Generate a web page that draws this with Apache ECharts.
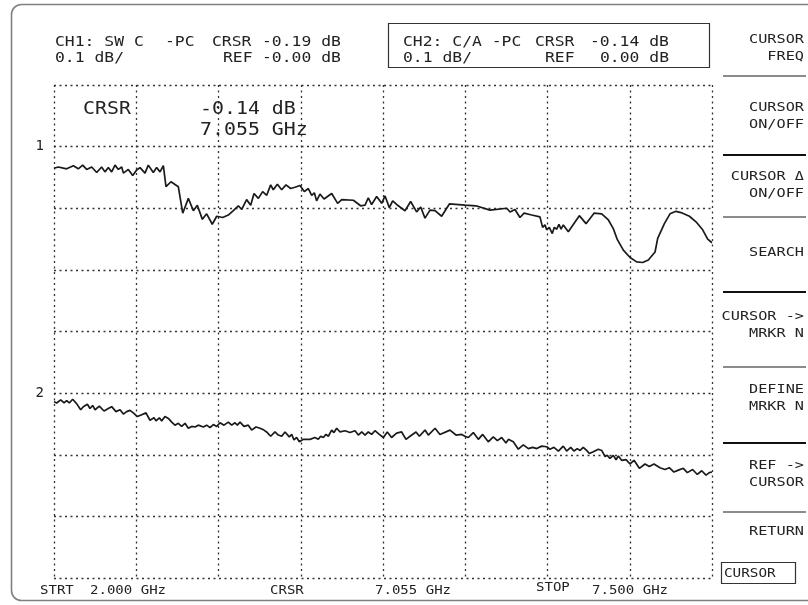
<!DOCTYPE html>
<html><head><meta charset="utf-8">
<script src="https://cdn.jsdelivr.net/npm/echarts@6/dist/echarts.min.js"></script>
<style>html,body{margin:0;padding:0;background:#fff}#c{width:808px;height:605px}</style>
</head><body><div id="c"></div>
<script>
// ---- data (frequency in GHz, level in dB) ----
const ch1Freq = [2.000,2.036,2.078,2.106,2.162,2.203,2.240,2.273,2.315,2.357,2.398,2.426,2.454,2.482,2.510,2.538,2.566,2.580,2.621,2.658,2.691,2.719,2.761,2.788,2.830,2.858,2.886,2.914,2.936,2.978,3.039,3.076,3.123,3.165,3.198,3.240,3.276,3.323,3.360,3.410,3.457,3.499,3.541,3.569,3.610,3.644,3.672,3.708,3.744,3.778,3.811,3.833,3.867,3.903,3.939,3.978,4.014,4.056,4.092,4.126,4.154,4.176,4.195,4.223,4.257,4.321,4.371,4.405,4.502,4.563,4.600,4.627,4.655,4.697,4.739,4.767,4.803,4.831,4.878,4.934,4.981,5.031,5.065,5.101,5.143,5.185,5.240,5.305,5.436,5.527,5.644,5.784,5.812,5.853,5.895,5.929,5.993,6.062,6.084,6.104,6.118,6.140,6.165,6.182,6.202,6.221,6.238,6.257,6.299,6.391,6.447,6.514,6.578,6.634,6.675,6.709,6.759,6.815,6.870,6.920,6.968,7.024,7.046,7.102,7.149,7.199,7.241,7.311,7.366,7.422,7.464,7.500];
const ch1Db = [-0.035,-0.033,-0.035,-0.036,-0.031,-0.036,-0.030,-0.037,-0.033,-0.042,-0.033,-0.041,-0.034,-0.041,-0.030,-0.037,-0.033,-0.043,-0.037,-0.047,-0.038,-0.034,-0.043,-0.030,-0.042,-0.034,-0.041,-0.031,-0.065,-0.057,-0.065,-0.108,-0.084,-0.104,-0.095,-0.118,-0.109,-0.126,-0.113,-0.115,-0.111,-0.104,-0.096,-0.102,-0.086,-0.095,-0.076,-0.084,-0.073,-0.079,-0.062,-0.070,-0.061,-0.070,-0.062,-0.068,-0.066,-0.063,-0.073,-0.068,-0.079,-0.075,-0.088,-0.077,-0.085,-0.076,-0.092,-0.086,-0.087,-0.096,-0.095,-0.083,-0.094,-0.081,-0.092,-0.080,-0.099,-0.088,-0.096,-0.104,-0.089,-0.106,-0.098,-0.116,-0.103,-0.104,-0.113,-0.093,-0.095,-0.096,-0.103,-0.100,-0.106,-0.102,-0.115,-0.108,-0.111,-0.114,-0.131,-0.127,-0.135,-0.131,-0.141,-0.131,-0.134,-0.126,-0.134,-0.127,-0.138,-0.112,-0.125,-0.108,-0.109,-0.119,-0.133,-0.151,-0.168,-0.180,-0.187,-0.188,-0.184,-0.171,-0.149,-0.125,-0.109,-0.105,-0.107,-0.113,-0.122,-0.135,-0.150,-0.156];
const ch2Freq = [2.000,2.022,2.056,2.084,2.106,2.128,2.156,2.189,2.223,2.245,2.279,2.301,2.323,2.343,2.379,2.418,2.454,2.482,2.518,2.552,2.580,2.607,2.635,2.663,2.697,2.733,2.769,2.802,2.836,2.853,2.880,2.900,2.928,2.956,2.984,3.011,3.039,3.067,3.095,3.123,3.151,3.179,3.206,3.248,3.276,3.304,3.332,3.360,3.388,3.421,3.457,3.485,3.513,3.532,3.555,3.588,3.624,3.652,3.688,3.722,3.755,3.777,3.811,3.847,3.875,3.903,3.931,3.967,3.987,4.006,4.028,4.051,4.084,4.140,4.181,4.209,4.229,4.251,4.273,4.293,4.321,4.340,4.363,4.391,4.432,4.474,4.516,4.544,4.572,4.600,4.627,4.655,4.683,4.719,4.753,4.786,4.822,4.864,4.906,4.942,4.976,5.026,5.054,5.101,5.129,5.185,5.226,5.310,5.360,5.408,5.435,5.463,5.505,5.547,5.583,5.630,5.672,5.706,5.742,5.778,5.798,5.839,5.881,5.923,5.965,6.001,6.035,6.076,6.118,6.146,6.179,6.216,6.257,6.285,6.319,6.346,6.374,6.397,6.424,6.452,6.475,6.508,6.550,6.578,6.606,6.625,6.647,6.675,6.698,6.717,6.745,6.781,6.815,6.848,6.893,6.940,6.976,7.015,7.065,7.107,7.143,7.182,7.219,7.260,7.294,7.338,7.377,7.414,7.450,7.478,7.500];
const ch2Db = [-0.014,-0.016,-0.011,-0.016,-0.012,-0.016,-0.010,-0.017,-0.027,-0.022,-0.018,-0.025,-0.020,-0.027,-0.021,-0.029,-0.025,-0.022,-0.030,-0.027,-0.034,-0.030,-0.028,-0.032,-0.038,-0.035,-0.032,-0.044,-0.040,-0.045,-0.040,-0.045,-0.038,-0.041,-0.047,-0.052,-0.049,-0.054,-0.049,-0.057,-0.054,-0.055,-0.052,-0.055,-0.052,-0.056,-0.051,-0.054,-0.048,-0.052,-0.047,-0.052,-0.048,-0.052,-0.047,-0.054,-0.052,-0.060,-0.055,-0.057,-0.060,-0.063,-0.070,-0.063,-0.068,-0.070,-0.063,-0.071,-0.067,-0.076,-0.072,-0.079,-0.075,-0.075,-0.072,-0.075,-0.070,-0.072,-0.067,-0.070,-0.060,-0.064,-0.057,-0.063,-0.061,-0.064,-0.061,-0.068,-0.063,-0.068,-0.063,-0.067,-0.061,-0.067,-0.072,-0.063,-0.072,-0.065,-0.063,-0.075,-0.070,-0.063,-0.070,-0.060,-0.068,-0.057,-0.067,-0.060,-0.068,-0.067,-0.070,-0.072,-0.064,-0.075,-0.067,-0.079,-0.071,-0.077,-0.072,-0.081,-0.075,-0.079,-0.091,-0.084,-0.090,-0.088,-0.090,-0.086,-0.087,-0.091,-0.088,-0.094,-0.086,-0.094,-0.088,-0.094,-0.090,-0.093,-0.088,-0.093,-0.098,-0.095,-0.091,-0.093,-0.103,-0.101,-0.106,-0.101,-0.108,-0.102,-0.109,-0.108,-0.115,-0.109,-0.122,-0.115,-0.119,-0.115,-0.121,-0.124,-0.121,-0.128,-0.125,-0.122,-0.129,-0.124,-0.132,-0.126,-0.133,-0.129,-0.128];

// ---- texts ----
const ch1Line1 = ['CH1: SW C', '-PC', 'CRSR', '-0.19 dB'];
const ch1Line2 = ['0.1 dB/', 'REF', '-0.00 dB'];
const ch2Line1 = ['CH2: C/A -PC', 'CRSR', '-0.14 dB'];
const ch2Line2 = ['0.1 dB/', 'REF', '0.00 dB'];
const cursorReadout = ['CRSR', '-0.14 dB', '7.055 GHz'];
const bottomLabels = ['STRT', '2.000 GHz', 'CRSR', '7.055 GHz', 'STOP', '7.500 GHz'];
const menuItems = [['CURSOR','FREQ'],['CURSOR','ON/OFF'],['CURSOR \u0394','ON/OFF'],['SEARCH'],['CURSOR ->','MRKR N'],['DEFINE','MRKR N'],['REF ->','CURSOR'],['RETURN']];
const modeLabel = 'CURSOR';
const refMarks = ['1', '2'];

// ---- layout / style ----
const MONO = '"DejaVu Sans Mono", monospace';
const INK = '#222';
const SX = 1.17;
const ch1Line1X = [55, 165, 212, 262];
const ch1Line2X = [55, 223, 262];
const ch2Line1X = [403, 535, 590];
const ch2Line2X = [403, 545, 600];
const bottomX = [40, 90, 270, 375, 536, 592];
const bottomY = [591, 591, 591, 591, 588, 591];
const menuY = [40, 108, 177, 253, 317, 390, 466, 532];
const sepY = [76, 155, 217, 292, 367, 443, 512];
const sepThick = [false, true, false, true, false, true, false];

function txt(text, x, y, size, opt) {
  opt = opt || {};
  return {
    type: 'text', x: x, y: y, scaleX: opt.sx || SX, silent: true, z: 10,
    style: {
      text: text, fill: opt.fill || INK, font: size + 'px ' + MONO,
      align: opt.align || 'left', verticalAlign: 'middle',
      textAlign: opt.align || 'left', textVerticalAlign: 'middle'
    }
  };
}

const graphics = [];
graphics.push({type:'rect', silent:true, shape:{x:11.5, y:4.5, width:830, height:596, r:10},
  style:{fill:'none', stroke:'#808080', lineWidth:1.6}});
graphics.push({type:'rect', silent:true, shape:{x:388.5, y:23.5, width:321, height:44},
  style:{fill:'none', stroke:'#333', lineWidth:1.2}});
ch1Line1.forEach((t, i) => graphics.push(txt(t, ch1Line1X[i], 42, 14)));
ch1Line2.forEach((t, i) => graphics.push(txt(t, ch1Line2X[i], 58, 14)));
ch2Line1.forEach((t, i) => graphics.push(txt(t, ch2Line1X[i], 42, 14)));
ch2Line2.forEach((t, i) => graphics.push(txt(t, ch2Line2X[i], 58, 14)));
graphics.push(txt(cursorReadout[0], 83, 109.5, 17));
graphics.push(txt(cursorReadout[1], 200, 109.5, 17));
graphics.push(txt(cursorReadout[2], 200, 131, 17));
bottomLabels.forEach((t, i) => graphics.push(txt(t, bottomX[i], bottomY[i], 13, {sx:1.08})));
menuItems.forEach((lines, i) => lines.forEach((t, j) =>
  graphics.push(txt(t, 804, menuY[i] + j * 16.5, 13, {align:'right'}))));
sepY.forEach((y, i) => graphics.push({type:'line', silent:true,
  shape:{x1:723, y1:y, x2:806, y2:y},
  style:{stroke: sepThick[i] ? '#111' : '#666', lineWidth: sepThick[i] ? 2.2 : 1.4}}));
graphics.push({type:'rect', silent:true, shape:{x:721.5, y:562.5, width:74, height:21},
  style:{fill:'none', stroke:'#333', lineWidth:1.2}});
graphics.push(txt(modeLabel, 724, 573.5, 13, {sx:1.1}));

const dotted = {type:[2, 3.5], color:'#333', width:1.3};
const chart = echarts.init(document.getElementById('c'), null, {renderer:'canvas'});
chart.setOption({
  backgroundColor: '#fff',
  animation: false,
  grid: {left:54, top:85, width:658, height:493, containLabel:false},
  xAxis: [
    {type:'value', min:2, max:7.5, show:false},
    {type:'value', min:0, max:8, interval:1, axisLine:{show:false}, axisTick:{show:false},
     axisLabel:{show:false}, splitLine:{show:true, lineStyle:dotted}}
  ],
  yAxis: [
    {type:'value', min:-0.7, max:0.1, interval:0.1, position:'left',
     axisLine:{show:false}, axisTick:{show:false}, splitLine:{show:false},
     axisLabel:{margin:10, color:INK, fontFamily:MONO, fontSize:14,
       formatter: v => Math.abs(v) < 1e-6 ? refMarks[0] : ''}},
    {type:'value', min:-0.3, max:0.5, interval:0.1, position:'left',
     axisLine:{show:false}, axisTick:{show:false}, splitLine:{show:false},
     axisLabel:{margin:10, color:INK, fontFamily:MONO, fontSize:14,
       formatter: v => Math.abs(v) < 1e-6 ? refMarks[1] : ''}},
    {type:'value', min:0, max:8, interval:1, axisLine:{show:false}, axisTick:{show:false},
     axisLabel:{show:false}, splitLine:{show:true, lineStyle:dotted}}
  ],
  series: [
    {type:'line', name:'CH1', xAxisIndex:0, yAxisIndex:0, showSymbol:false, symbol:'none',
     lineStyle:{color:'#1a1a1a', width:1.7}, data: ch1Freq.map((f, i) => [f, ch1Db[i]])},
    {type:'line', name:'CH2', xAxisIndex:0, yAxisIndex:1, showSymbol:false, symbol:'none',
     lineStyle:{color:'#1a1a1a', width:1.7}, data: ch2Freq.map((f, i) => [f, ch2Db[i]])}
  ],
  graphic: {elements: graphics}
});
</script></body></html>
